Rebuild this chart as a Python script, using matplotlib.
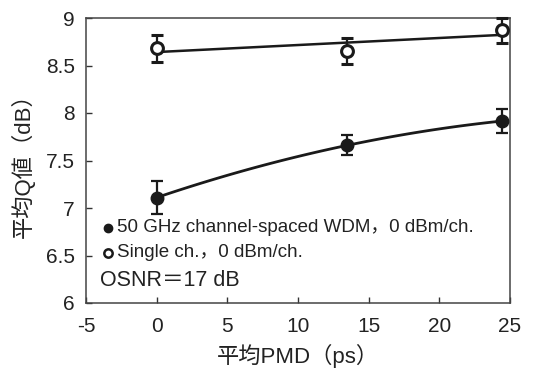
import numpy as np
import matplotlib
matplotlib.use("Agg")
import matplotlib.pyplot as plt

plt.rcParams['font.family'] = ['Liberation Sans', 'Noto Sans CJK JP', 'DejaVu Sans']

# Data
pmd = [0.0, 13.5, 24.4]
q_wdm = [7.11, 7.66, 7.915]
err_wdm = [0.17, 0.105, 0.13]
q_single = [8.68, 8.655, 8.87]
err_single = [0.14, 0.135, 0.135]

xticks = [-5, 0, 5, 10, 15, 20, 25]
yticks = [6, 6.5, 7, 7.5, 8, 8.5, 9]
yticklabels = ['6', '6.5', '7', '7.5', '8', '8.5', '9']

legend_wdm = '50 GHz channel-spaced WDM，0 dBm/ch.'
legend_single = 'Single ch.，0 dBm/ch.'
note = 'OSNR＝17 dB'
xlabel = '平均PMD（ps）'
ylabel = '平均Q値（dB）'

fig = plt.figure(figsize=(5.42, 3.71), dpi=100)
ax = fig.add_axes([86/542, 1 - 303/371, (510-86)/542, (303-18)/371])

# fits
xs = np.linspace(min(pmd), max(pmd), 100)
c2 = np.polyfit(pmd, q_wdm, 2)
ax.plot(xs, np.polyval(c2, xs), color='#1a1a1a', lw=2.0, zorder=2)
c1 = np.polyfit(pmd, q_single, 1)
ax.plot(xs, np.polyval(c1, xs), color='#1a1a1a', lw=1.8, zorder=2)

ax.errorbar(pmd, q_wdm, yerr=err_wdm, fmt='o', color='#1a1a1a', ms=9,
            mfc='#1a1a1a', mec='#1a1a1a', ecolor='#1a1a1a', elinewidth=1.6,
            capsize=4, capthick=1.6, zorder=3, clip_on=False)
ax.errorbar(pmd, q_single, yerr=err_single, fmt='o', color='#1a1a1a', ms=8.5,
            mfc='white', mec='#1a1a1a', mew=2.2, ecolor='#1a1a1a', elinewidth=1.6,
            capsize=4, capthick=1.6, zorder=3, clip_on=False)

ax.set_xlim(-5, 25)
ax.set_ylim(6, 9)
ax.set_xticks(xticks)
ax.set_xticklabels([str(t) for t in xticks])
ax.set_yticks(yticks)
ax.set_yticklabels(yticklabels)
ax.tick_params(axis='both', direction='in', length=4, width=1, color='#333333',
               labelsize=15, labelcolor='#222222')
ax.tick_params(axis='x', pad=10)
ax.tick_params(axis='y', pad=8)
for s in ax.spines.values():
    s.set_color('#444444')
    s.set_linewidth(1.1)

ax.set_xlabel(xlabel, fontsize=16, color='#222222', labelpad=6)
ax.set_ylabel(ylabel, fontsize=16, color='#222222', labelpad=8)

# legend-like annotations
ax.plot([-3.45], [6.79], 'o', color='#1a1a1a', ms=6)
ax.text(-2.8, 6.79, legend_wdm, fontsize=13.5, va='center', ha='left', color='#222222')
ax.plot([-3.45], [6.53], 'o', mfc='white', mec='#1a1a1a', mew=1.8, ms=6)
ax.text(-2.8, 6.53, legend_single, fontsize=13.5, va='center', ha='left', color='#222222')
ax.text(-4.0, 6.24, note, fontsize=15.5, va='center', ha='left', color='#222222')

fig.savefig('out.png', dpi=100)
